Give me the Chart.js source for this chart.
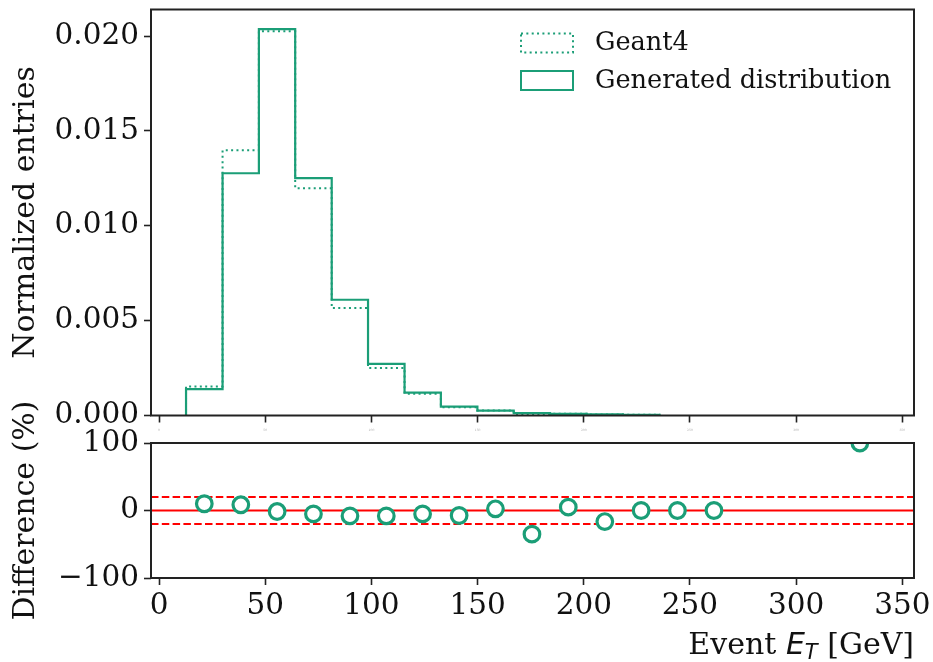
<!DOCTYPE html>
<html>
<head>
<meta charset="utf-8">
<script src="https://cdn.jsdelivr.net/npm/chart.js@4"></script>
<style>
  html, body { margin:0; padding:0; background:#fff }
  #wrap { position:relative; width:933px; height:662px; overflow:hidden }
  canvas { position:absolute; left:0 }
  #hist { top:0 }
  #diff { top:390px }
</style>
</head>
<body>
<div id="wrap">
  <canvas id="hist" width="933" height="440"></canvas>
  <canvas id="diff" width="933" height="272"></canvas>
</div>
<script>
// E_T histogram: bin edges (GeV) and normalized contents
const binEdges = [12.7, 29.9, 47.0, 64.1, 81.3, 98.4, 115.6, 132.7, 149.9, 167.0, 184.1, 201.3, 218.4, 235.6]
const geant4 = [0.00153, 0.01398, 0.02025, 0.01198, 0.00566, 0.00250, 0.00115, 0.00044, 0.000267, 0.000085, 0.000095, 0.00005, 0.00004]
const generated = [0.00139, 0.01277, 0.02037, 0.01251, 0.00610, 0.00272, 0.00121, 0.00047, 0.00026, 0.00013, 0.00009, 0.00006, 0.00004]

// relative difference per bin (%)
const diffCenters = [21.3, 38.5, 55.6, 72.7, 89.9, 107.0, 124.1, 141.3, 158.4, 175.6, 192.7, 209.9, 227.0, 244.1, 261.3, 330.0]
const diffValues = [10, 8.5, -1.5, -5, -8, -8, -5, -7.4, 2.5, -35, 5, -16.4, 0, 0, 0, 100]
const bandLevels = [-20, 20]

const xTicks = [0, 50, 100, 150, 200, 250, 300, 350]
const histTicks = [0, 0.005, 0.010, 0.015, 0.020]
const diffTicks = [-100, 0, 100]
const xMin = -3.8, xMax = 355.5

const green = '#1b9e77', red = '#ff0000', axisInk = '#222'
const serif = 'DejaVu Serif'
const tickSize = 29.5, labelSize = 30, legendSize = 25.6

// step outline for stepped:'before' (flat at the previous value, then jump):
// rise at the first edge, one point per left edge, drop at the last edge
function stepPoints(vals){
  const pts = [{ x: binEdges[0], y: 0 }]
  vals.forEach((v, i) => pts.push({ x: binEdges[i], y: v }))
  pts.push({ x: binEdges[vals.length], y: 0 })
  return pts
}

const fixedTicks = list => s => { s.ticks = list.map(v => ({ value: v })) }
// pin the axis box size and drop the label overhang padding Chart.js reserves
const fixBox = (w, h) => s => {
  if (w != null) s.width = w
  if (h != null) s.height = h
  s.paddingTop = s.paddingBottom = s.paddingLeft = s.paddingRight = 0
}

const tickGrid = { display:true, drawOnChartArea:false, drawTicks:true, tickLength:7, tickWidth:1.6, tickColor:axisInk }

// axes box drawn over the data, like matplotlib spines
const frame = {
  id: 'frame',
  afterDatasetsDraw(chart){
    const { ctx, chartArea:a } = chart
    ctx.save()
    ctx.strokeStyle = axisInk; ctx.lineWidth = 2
    ctx.strokeRect(a.left, a.top, a.right - a.left, a.bottom - a.top)
    ctx.restore()
  }
}

const histLegend = {
  id: 'histLegend',
  afterDraw(chart){
    const { ctx, chartArea:a } = chart
    const boxX = a.left + 370, textX = a.left + 444
    const rows = [a.top + 24, a.top + 61.5]
    const items = [chart.data.datasets[1], chart.data.datasets[0]]
    ctx.save()
    items.forEach((ds, i) => {
      ctx.strokeStyle = ds.borderColor; ctx.lineWidth = 2
      ctx.setLineDash(ds.borderDash || [])
      ctx.strokeRect(boxX, rows[i], 52, 19)
      ctx.setLineDash([])
      ctx.fillStyle = '#111'
      ctx.font = `${legendSize}px "${serif}"`
      ctx.textBaseline = 'middle'
      ctx.fillText(ds.label, textX, rows[i] + 10)
    })
    ctx.restore()
  }
}

// "Event E_T [GeV]" with mathtext-like italic E and subscript T
const xTitle = {
  id: 'xTitle',
  afterDraw(chart){
    const { ctx, chartArea:a } = chart
    const base = a.bottom + 76
    const parts = [
      { t:'Event ', f:`${labelSize}px "${serif}"`, dy:0 },
      { t:'E', f:`oblique ${labelSize}px "DejaVu Sans"`, dy:0 },
      { t:'T', f:`oblique ${labelSize * 0.7}px "DejaVu Sans"`, dy:4.5 },
      { t:' [GeV]', f:`${labelSize}px "${serif}"`, dy:0 }
    ]
    ctx.save()
    ctx.fillStyle = '#111'; ctx.textBaseline = 'alphabetic'
    let total = 0
    parts.forEach(p => { ctx.font = p.f; p.w = ctx.measureText(p.t).width; total += p.w })
    let x = a.right - total
    parts.forEach(p => { ctx.font = p.f; ctx.fillText(p.t, x, base + p.dy); x += p.w })
    ctx.restore()
  }
}

const common = {
  responsive: false, animation: false, events: [],
  plugins: { legend: { display:false }, tooltip: { enabled:false } }
}

new Chart(document.getElementById('hist'), {
  type: 'line',
  data: {
    datasets: [
      { label:'Generated distribution', data: stepPoints(generated), stepped:'before',
        borderColor: green, borderWidth: 2.2, pointRadius: 0, fill: false, order: 0 },
      { label:'Geant4', data: stepPoints(geant4), stepped:'before',
        borderColor: green, borderWidth: 2, borderDash: [2, 3.35], pointRadius: 0, fill: false, order: 1 }
    ]
  },
  options: Object.assign({}, common, {
    layout: { padding: { top: 9.5, right: 19, left: 0, bottom: 0 } },
    scales: {
      x: {
        type: 'linear', min: xMin, max: xMax,
        afterBuildTicks: fixedTicks(xTicks), afterFit: fixBox(null, 24.5),
        grid: tickGrid, border: { display:false },
        ticks: { font: { family: serif, size: 3 }, color: '#aaa', padding: 6, maxRotation: 0 }
      },
      y: {
        min: 0, max: 0.0214,
        afterBuildTicks: fixedTicks(histTicks), afterFit: fixBox(151, null),
        grid: tickGrid, border: { display:false },
        ticks: { font: { family: serif, size: tickSize }, color: '#111', padding: 5, callback: v => v.toFixed(3) },
        title: { display:true, text:'Normalized entries', color:'#111',
          font: { family: serif, size: labelSize, lineHeight: 1.2 }, padding: { top: 8, bottom: 0 } }
      }
    }
  }),
  plugins: [frame, histLegend]
})

const refLine = (y, dash) => ({
  type: 'line', data: [{ x: xMin, y }, { x: xMax, y }],
  borderColor: red, borderWidth: 2, borderDash: dash, pointRadius: 0, fill: false, order: 1
})

new Chart(document.getElementById('diff'), {
  type: 'scatter',
  data: {
    datasets: [
      { label:'difference', data: diffCenters.map((x, i) => ({ x, y: diffValues[i] })),
        pointStyle: 'circle', pointRadius: 7.8, pointBorderWidth: 3.2, borderWidth: 3.2,
        pointBorderColor: green, borderColor: green,
        pointBackgroundColor: '#fff', backgroundColor: '#fff', order: 0 },
      refLine(0, []),
      ...bandLevels.map(y => refLine(y, [7.5, 3.3]))
    ]
  },
  options: Object.assign({}, common, {
    layout: { padding: { top: 53, right: 19, left: 0, bottom: 0 } },
    scales: {
      x: {
        type: 'linear', min: xMin, max: xMax,
        afterBuildTicks: fixedTicks(xTicks), afterFit: fixBox(null, 84),
        grid: tickGrid, border: { display:false },
        ticks: { font: { family: serif, size: tickSize }, color: '#111', padding: 4, maxRotation: 0 }
      },
      y: {
        min: -100, max: 100,
        afterBuildTicks: fixedTicks(diffTicks), afterFit: fixBox(151, null),
        grid: tickGrid, border: { display:false },
        ticks: { font: { family: serif, size: tickSize }, color: '#111', padding: 5,
          callback: v => String(v).replace('-', '\u2212') },
        title: { display:true, text:'Difference (%)', color:'#111',
          font: { family: serif, size: labelSize, lineHeight: 1.2 }, padding: { top: 8, bottom: 0 } }
      }
    }
  }),
  plugins: [frame, xTitle]
})
</script>
</body>
</html>
